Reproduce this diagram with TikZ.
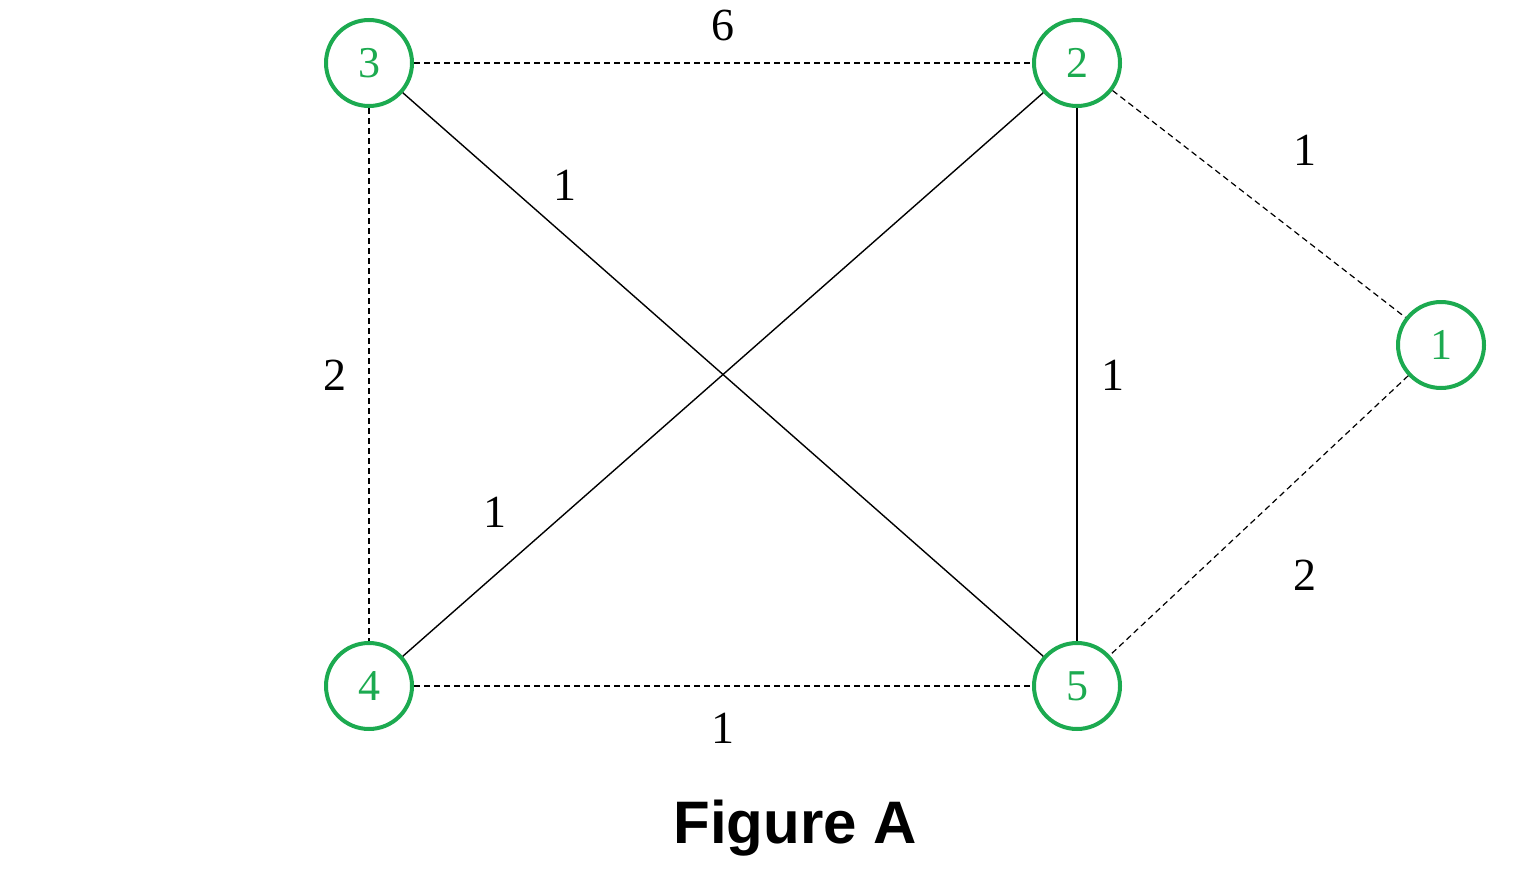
\documentclass[tikz,border=0pt]{standalone}
\usepackage{fontspec}
\setmainfont{Liberation Serif}
\newfontfamily\figfont{Liberation Sans}
\begin{document}
\begin{tikzpicture}[x=0.5pt,y=-0.5pt,
  vert/.style={circle,draw=gcol,line width=2pt,minimum size=43pt,inner sep=0pt,text=gcol,font=\fontsize{22}{24}\selectfont},
  wlab/.style={font=\fontsize{23}{26}\selectfont},
  dsh/.style={dashed,line width=0.6pt,dash pattern=on 3pt off 2pt},
  sol/.style={line width=0.7pt}]
\definecolor{gcol}{RGB}{28,170,80}
\useasboundingbox (0,0) rectangle (1514,872);
\node[vert] (n3) at (369,63) {3};
\node[vert] (n2) at (1077,63) {2};
\node[vert] (n1) at (1441,345) {1};
\node[vert] (n4) at (369,686) {4};
\node[vert] (n5) at (1077,686) {5};
\draw[dsh] (n3) -- (n2);
\draw[dsh] (n2) -- (n1);
\draw[dsh] (n1) -- (n5);
\draw[dsh] (n4) -- (n5);
\draw[dsh] (n3) -- (n4);
\draw[sol] (n3) -- (n5);
\draw[sol] (n2) -- (n4);
\draw[sol] (n2) -- (n5);
\node[wlab] (l1) at (723,25) {6};
\node[wlab] (l2) at (1305,150) {1};
\node[wlab] (l3) at (565,185) {1};
\node[wlab] (l4) at (335,375) {2};
\node[wlab] (l5) at (1113,375) {1};
\node[wlab] (l6) at (495,512) {1};
\node[wlab] (l7) at (1305,575) {2};
\node[wlab] (l8) at (723,728) {1};
\node[font=\figfont\bfseries\fontsize{30}{34}\selectfont] (cap) at (795,828) {Figure A};
\end{tikzpicture}
\end{document}
